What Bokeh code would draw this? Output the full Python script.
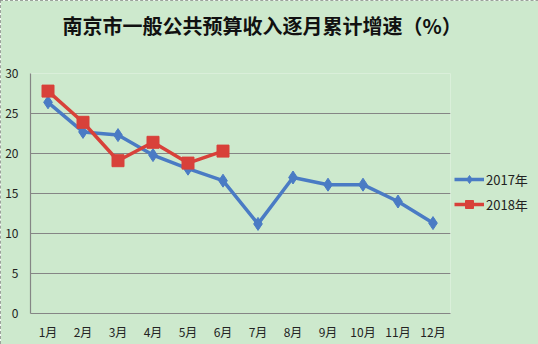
from bokeh.plotting import figure
from bokeh.models import ColumnDataSource, Legend, LegendItem, FactorRange, Range1d, FixedTicker, Title
from bokeh.embed import file_html
from bokeh.resources import INLINE

months = ["1月", "2月", "3月", "4月", "5月", "6月", "7月", "8月", "9月", "10月", "11月", "12月"]
growth_2017 = [26.4, 22.7, 22.3, 19.8, 18.1, 16.6, 11.2, 17.0, 16.1, 16.1, 14.0, 11.3]
months_2018 = ["1月", "2月", "3月", "4月", "5月", "6月"]
growth_2018 = [27.8, 23.9, 19.1, 21.4, 18.8, 20.3]
title_text = "南京市一般公共预算收入逐月累计增速（%）"

BG = "#cde9cd"
CJK = "Noto Sans CJK SC"

p = figure(x_range=FactorRange(*months), y_range=Range1d(0, 30),
           frame_width=420, frame_height=240,
           min_border_left=30, min_border_right=88, min_border_top=73, min_border_bottom=31,
           output_backend="svg", toolbar_location=None,
           background_fill_color=BG, border_fill_color=BG)
p.styles = {"outline": "1px dashed #8a8a8a", "outline-offset": "-1px"}

# spacer between frame and title
spacer = Title(text=" ", text_font_size="1px", standoff=31)
p.add_layout(spacer, "above")
main_title = Title(text=title_text, align="left", offset=32, standoff=0,
                   text_font=CJK, text_font_size="20px", text_font_style="bold",
                   text_color="#111111")
p.add_layout(main_title, "above")

p.outline_line_color = None
p.xgrid.grid_line_color = None
p.ygrid.grid_line_color = "#858585"
p.ygrid.grid_line_width = 1.2

p.yaxis.ticker = FixedTicker(ticks=[0, 5, 10, 15, 20, 25, 30])
for ax in (p.xaxis[0], p.yaxis[0]):
    ax.axis_line_color = "#858585"
    ax.axis_line_width = 1.2
    ax.major_tick_line_color = None
    ax.minor_tick_line_color = None
    ax.major_label_text_font = CJK
    ax.major_label_text_font_size = "12px"
    ax.major_label_text_color = "#222222"
p.yaxis.major_label_standoff = 6
p.xaxis.major_label_standoff = 3

s17 = ColumnDataSource(dict(x=months, y=growth_2017))
s18 = ColumnDataSource(dict(x=months_2018, y=growth_2018))

BLUE = "#4a7bc4"
RED = "#d8413a"
l17 = p.line("x", "y", source=s17, line_color=BLUE, line_width=3.5)
m17 = p.scatter("x", "y", source=s17, marker="diamond", size=13, fill_color=BLUE, line_color=BLUE)
l18 = p.line("x", "y", source=s18, line_color=RED, line_width=3.5)
m18 = p.scatter("x", "y", source=s18, marker="square", size=12, fill_color=RED, line_color=RED)

legend = Legend(items=[LegendItem(label="2017年", renderers=[l17, m17]),
                       LegendItem(label="2018年", renderers=[l18, m18])],
                location=(4, 99))
legend.background_fill_alpha = 0
legend.border_line_color = None
legend.label_text_font = CJK
legend.label_text_font_size = "13px"
legend.label_text_color = "#222222"
legend.glyph_width = 30
legend.label_standoff = 2
legend.spacing = 5
legend.padding = 2
legend.margin = 0
p.add_layout(legend, "right")

open("out.html", "w").write(file_html(p, INLINE))
